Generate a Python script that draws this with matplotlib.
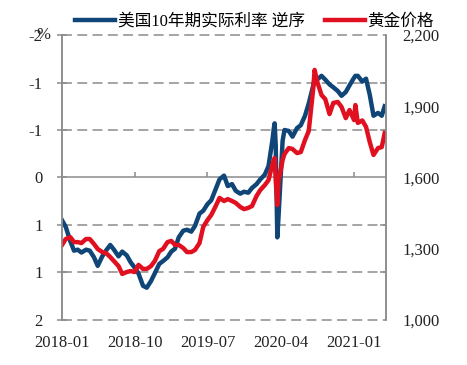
import numpy as np
import pandas as pd
import matplotlib
matplotlib.use("Agg")
import matplotlib.pyplot as plt
import matplotlib.dates as mdates
from matplotlib.ticker import FuncFormatter

plt.rcParams['font.family'] = ['Liberation Serif', 'Noto Sans CJK SC']
plt.rcParams['font.size'] = 12

# data, semi-monthly with extra points in Mar 2020 / Aug 2020 / Jan 2021
dates = ['2018-01-01', '2018-01-15', '2018-02-01', '2018-02-15', '2018-03-01', '2018-03-15',
         '2018-04-01', '2018-04-15', '2018-05-01', '2018-05-15', '2018-06-01', '2018-06-15',
         '2018-07-01', '2018-07-15', '2018-08-01', '2018-08-15', '2018-09-01', '2018-09-15',
         '2018-10-01', '2018-10-15', '2018-11-01', '2018-11-15', '2018-12-01', '2018-12-15',
         '2019-01-01', '2019-01-15', '2019-02-01', '2019-02-15', '2019-03-01', '2019-03-15',
         '2019-04-01', '2019-04-15', '2019-05-01', '2019-05-15', '2019-06-01', '2019-06-15',
         '2019-07-01', '2019-07-15', '2019-08-01', '2019-08-15', '2019-09-01', '2019-09-15',
         '2019-10-01', '2019-10-15', '2019-11-01', '2019-11-15', '2019-12-01', '2019-12-15',
         '2020-01-01', '2020-01-15', '2020-02-01', '2020-02-15', '2020-03-01', '2020-03-06',
         '2020-03-09', '2020-03-13', '2020-03-19', '2020-03-24', '2020-04-01', '2020-04-08',
         '2020-04-15', '2020-05-01', '2020-05-15', '2020-06-01', '2020-06-15', '2020-07-01',
         '2020-07-15', '2020-08-01', '2020-08-06', '2020-08-15', '2020-09-01', '2020-09-15',
         '2020-10-01', '2020-10-15', '2020-11-01', '2020-11-15', '2020-12-01', '2020-12-15',
         '2021-01-01', '2021-01-06', '2021-01-15', '2021-02-01', '2021-02-15', '2021-03-01',
         '2021-03-15', '2021-04-01', '2021-04-15', '2021-04-26']

real_rate = [0.45, 0.52, 0.67, 0.77, 0.76, 0.79, 0.76, 0.77, 0.84, 0.93, 0.83, 0.77,
             0.71, 0.76, 0.83, 0.78, 0.82, 0.89, 0.95, 1.01, 1.14, 1.16, 1.09, 1.01,
             0.91, 0.88, 0.84, 0.78, 0.75, 0.63, 0.56, 0.55, 0.57, 0.51, 0.38, 0.35,
             0.28, 0.24, 0.12, 0.02, -0.02, 0.09, 0.07, 0.14, 0.17, 0.15, 0.16, 0.11,
             0.07, 0.02, -0.03, -0.12, -0.40, -0.52, -0.57, -0.34, 0.63, 0.39,
             -0.03, -0.39, -0.50, -0.49, -0.43, -0.52, -0.55, -0.65, -0.78, -0.97, -1.04,
             -1.03, -1.07, -1.03, -0.98, -0.95, -0.91, -0.86, -0.90, -0.97,
             -1.05, -1.07, -1.07, -1.01, -1.04, -0.87, -0.65, -0.68, -0.65, -0.75]

gold = [1316, 1341, 1349, 1328, 1328, 1324, 1341, 1341, 1320, 1299, 1286, 1282,
        1265, 1248, 1227, 1194, 1202, 1206, 1202, 1232, 1215, 1215, 1227, 1248,
        1290, 1299, 1328, 1333, 1316, 1316, 1303, 1286, 1286, 1295, 1324, 1392,
        1421, 1442, 1480, 1514, 1501, 1509, 1501, 1493, 1476, 1467, 1472, 1480,
        1522, 1547, 1568, 1589, 1657, 1674, 1682, 1589, 1484, 1589,
        1632, 1674, 1699, 1724, 1720, 1703, 1707, 1758, 1796, 1977, 2053,
        2006, 1947, 1930, 1867, 1914, 1918, 1897, 1850, 1884,
        1842, 1905, 1830, 1840, 1813, 1749, 1695, 1724, 1728, 1787]

left_ticks = [-1.5, -1.0, -0.5, 0, 0.5, 1.0, 1.5]
left_labels = ['-2', '-1', '-1', '0', '1', '1', '2']   # excel rounding
right_ticks = [1000, 1300, 1600, 1900, 2200]
x_ticks = ['2018-01-01', '2018-10-01', '2019-07-01', '2020-04-01', '2021-01-01']

blue = '#0F4677'
red = '#E01020'
grey = '#8C8C8C'

d = pd.to_datetime(dates)
xt = pd.to_datetime(x_ticks)

fig = plt.figure(figsize=(4.67, 3.65), dpi=100)
ax = fig.add_axes([0.1328, 0.1233, 0.6938, 0.7808])
ax2 = ax.twinx()

l1, = ax.plot(d, real_rate, color=blue, lw=3.2, solid_joinstyle='round')
l2, = ax2.plot(d, gold, color=red, lw=3.2, solid_joinstyle='round')

ax.set_xlim(pd.Timestamp('2018-01-01'), pd.Timestamp('2021-05-01'))
ax.set_ylim(1.5, -1.5)
ax2.set_ylim(1000, 2200)

# grid lines, the zero one is solid
for v in left_ticks:
    if v == 0:
        ax.axhline(v, color=grey, lw=1.1, zorder=0)
    else:
        ax.axhline(v, color=grey, lw=1.1, ls=(0, (6.5, 3.5)), zorder=0, clip_on=False)

# small ticks sitting on the zero line
ax.vlines(xt, 0, -0.055, color=grey, lw=1.1)

ax.set_xticks(xt)
ax.xaxis.set_major_formatter(mdates.DateFormatter('%Y-%m'))
ax.tick_params(axis='x', length=0, pad=11, colors='#222222')

ax.set_yticks(left_ticks)
ax.set_yticklabels(left_labels)
ax.tick_params(axis='y', direction='inout', length=7, width=1.1, color=grey,
               pad=10.5, labelcolor='#222222')

ax2.set_yticks(right_ticks)
ax2.yaxis.set_major_formatter(FuncFormatter(lambda v, p: f'{v:,.0f}'))
ax2.set_yticks(np.arange(1000, 2201, 200), minor=True)
ax2.tick_params(axis='y', which='major', length=0, pad=12, labelcolor='#222222')
ax2.tick_params(axis='y', which='minor', direction='in', length=4, width=1.1, color=grey)

for a in (ax, ax2):
    a.spines['top'].set_visible(False)
    a.spines['bottom'].set_visible(False)
    a.spines['left'].set_color(grey)
    a.spines['right'].set_color(grey)
    a.spines['left'].set_linewidth(1.1)
    a.spines['right'].set_linewidth(1.1)

fig.text(50 / 467, 1 - 35 / 365, '%', ha='right', va='center', color='#222222')

fig.legend(handles=[l1, l2], labels=['美国10年期实际利率 逆序', '黄金价格'],
           loc='center', bbox_to_anchor=(0.545, 0.94), ncol=2, frameon=False,
           handlelength=2.4, handletextpad=0.15, columnspacing=1.2, fontsize=12,
           borderaxespad=0)

fig.savefig('out.png', dpi=100, facecolor='white')
